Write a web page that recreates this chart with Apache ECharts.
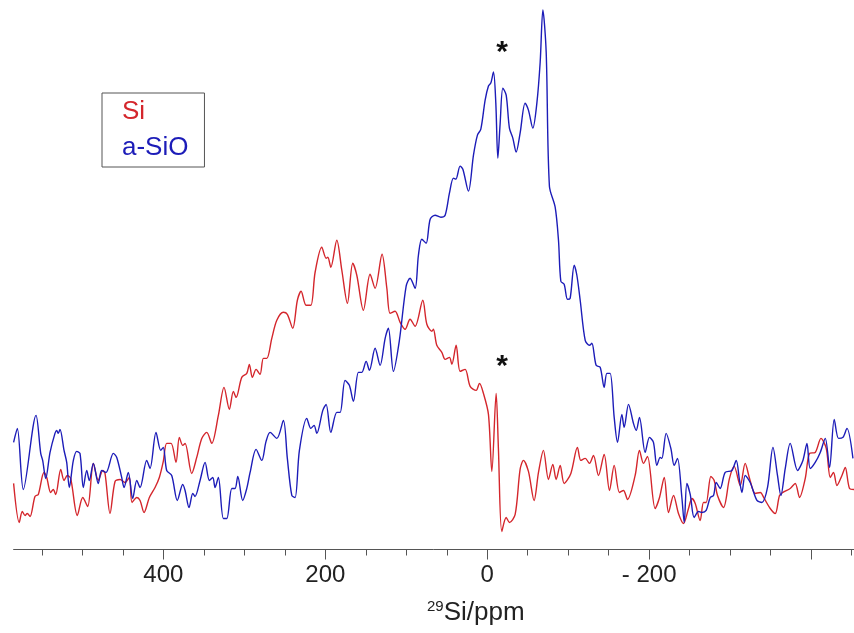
<!DOCTYPE html>
<html>
<head>
<meta charset="utf-8">
<script src="https://cdn.jsdelivr.net/npm/echarts@6/dist/echarts.min.js"></script>
<style>
  html, body { margin: 0; padding: 0; background: #fff; }
  #chart { width: 854px; height: 633px; }
</style>
</head>
<body>
<div id="chart"></div>
<script>
// 29Si NMR spectra: chemical shift (ppm) and relative intensity
const siPpm = [585, 578.0, 574.3, 570.9, 568.1, 564.7, 558.6, 554.5, 547.5, 544.1, 539.2, 536.0, 533.0, 526.8, 522.7, 518.7, 514.5, 506.3, 499.6, 493.5, 486.5, 480.4, 474.9, 472.1, 465.9, 459.7, 453.5, 447.4, 442.1, 438.7, 432.9, 428.8, 423.9, 417.3, 410.3, 405.0, 400.1, 395.9, 390.5, 384.4, 380.3, 376.1, 373.2, 365.0, 358.8, 352.6, 346.4, 340.3, 332.1, 325.1, 318.5, 313.6, 310.2, 303.2, 297.0, 293.8, 290.1, 285.5, 280.6, 276.5, 272.3, 266.1, 259.9, 251.8, 246.9, 240.2, 234.5, 229.9, 223.7, 217.9, 212.6, 204.4, 199.0, 196.9, 193.2, 185.8, 179.6, 172.7, 166.1, 161.1, 153.0, 144.7, 138.5, 129.9, 124.0, 120.0, 113.8, 107.6, 101.4, 95.3, 89.1, 79.6, 74.6, 68.4, 66.5, 62.3, 56.1, 52.0, 46.7, 43.7, 38.4, 33.5, 27.3, 21.1, 13.7, 9.6, 4.7, -1.5, -5.7, -11.0, -13.8, -18.0, -23.4, -27.4, -34.5, -40.6, -44.7, -50.9, -57.9, -63.3, -69.4, -75.6, -81.0, -85.1, -90.1, -95.0, -103.3, -111.4, -115.6, -121.0, -126.3, -131.2, -137.4, -144.4, -151.0, -156.8, -163.3, -168.3, -173.2, -182.7, -188.0, -193.0, -197.9, -207.4, -212.8, -218.6, -223.9, -230.1, -236.2, -242.4, -248.6, -252.8, -256.9, -263.0, -267.1, -270.4, -276.2, -280.3, -284.4, -291.8, -299.2, -305.0, -312.5, -318.6, -324.0, -331.0, -337.2, -342.1, -349.5, -355.7, -361.0, -365.2, -374.2, -380.4, -385.7, -392.8, -398.1, -405.1, -412.2, -418.7, -423.7, -427.7, -431.9, -438.1, -442.2, -447.5, -453.3];
const siInt = [66, 27, 38, 34, 36, 33, 53, 55, 77, 72, 57, 60, 55, 80, 69, 74, 71, 34, 52, 43, 86, 69, 79, 76, 36, 68, 70, 67, 72, 47, 52, 49, 37, 52, 62, 72, 88, 106, 106, 87, 112, 104, 106, 76, 92, 111, 117, 106, 134, 162, 140, 158, 152, 172, 176, 185, 172, 180, 175, 191, 191, 211, 229, 237, 235, 221, 249, 258, 244, 244, 277, 302, 291, 292, 282, 309, 279, 246, 286, 274, 239, 275, 261, 295, 261, 236, 238, 227, 220, 230, 223, 249, 225, 218, 220, 204, 197, 190, 192, 185, 204, 178, 180, 163, 159, 166, 156, 135, 78, 156, 101, 18, 32, 27, 35, 80, 89, 78, 49, 77, 99, 70, 85, 70, 84, 66, 76, 102, 89, 91, 86, 94, 74, 95, 59, 84, 57, 59, 50, 74, 99, 86, 93, 41, 52, 72, 37, 54, 36, 26, 41, 51, 46, 29, 47, 47, 73, 69, 54, 42, 71, 83, 64, 86, 71, 56, 57, 51, 41, 36, 54, 57, 61, 66, 52, 71, 96, 97, 111, 101, 72, 77, 64, 74, 82, 61, 60];

const sioPpm = [585, 580.4, 573.0, 557.3, 551.5, 549.1, 545.3, 540.0, 533.9, 531.8, 529.8, 527.7, 522.7, 519.4, 516.2, 511.2, 507.0, 503.0, 498.9, 494.7, 491.5, 486.5, 480.4, 476.2, 470.9, 461.8, 457.6, 451.5, 448.6, 443.3, 437.9, 432.9, 428.8, 420.6, 416.5, 409.1, 403.3, 400.1, 395.9, 389.7, 382.8, 376.1, 373.2, 368.3, 363.7, 360.9, 354.7, 348.5, 343.2, 339.0, 336.2, 332.1, 325.9, 321.7, 315.5, 311.5, 308.1, 302.0, 297.0, 292.9, 285.5, 278.5, 273.2, 268.2, 259.9, 251.8, 246.9, 241.4, 237.3, 232.0, 222.9, 217.9, 213.9, 210.5, 203.1, 199.0, 193.2, 185.8, 181.7, 175.6, 170.3, 165.3, 159.1, 154.9, 149.6, 145.5, 138.5, 132.3, 126.1, 122.1, 115.9, 108.5, 100.2, 95.3, 89.1, 85.0, 80.8, 75.5, 70.5, 64.4, 57.3, 52.0, 46.7, 41.8, 38.8, 33.5, 30.1, 23.2, 17.0, 12.1, 7.9, 2.6, -1.5, -4.4, -7.7, -10.6, -13.1, -15.9, -19.3, -23.4, -27.4, -31.6, -35.7, -40.6, -46.8, -50.9, -56.3, -61.3, -65.4, -68.7, -72.8, -76.8, -83.9, -88.0, -90.9, -95.0, -99.1, -102.4, -107.4, -110.7, -114.8, -121.0, -126.3, -129.2, -134.5, -139.5, -144.4, -147.8, -151.8, -156.8, -160.9, -166.3, -169.1, -174.5, -180.6, -184.0, -188.0, -195.1, -200.4, -205.3, -209.5, -213.6, -215.7, -221.0, -226.8, -230.9, -235.0, -240.4, -243.3, -246.6, -250.7, -255.6, -260.9, -265.1, -270.4, -275.4, -279.5, -282.8, -287.7, -293.9, -302.2, -307.5, -311.6, -314.6, -318.6, -324.8, -333.1, -339.3, -346.2, -352.9, -358.5, -362.7, -368.1, -374.2, -383.3, -389.9, -394.9, -398.9, -405.1, -411.3, -417.5, -422.8, -428.6, -433.9, -439.3, -444.3, -451.7];
const sioInt = [107, 121, 60, 134, 96, 89, 71, 97, 116, 119, 116, 120, 99, 87, 62, 89, 98, 96, 62, 79, 69, 86, 66, 79, 77, 96, 92, 72, 62, 77, 51, 69, 62, 89, 81, 117, 99, 102, 79, 74, 49, 65, 59, 42, 56, 53, 69, 87, 69, 72, 62, 72, 31, 31, 61, 61, 73, 49, 61, 77, 100, 89, 108, 117, 111, 129, 91, 54, 52, 99, 131, 121, 124, 116, 139, 145, 117, 137, 137, 169, 164, 148, 177, 177, 188, 179, 201, 184, 211, 221, 178, 209, 263, 271, 261, 294, 310, 306, 330, 334, 332, 334, 356, 371, 370, 383, 380, 358, 394, 414, 420, 449, 463, 466, 477, 446, 391, 425, 461, 454, 421, 411, 397, 416, 446, 439, 421, 446, 487, 539, 497, 363, 342, 309, 268, 265, 250, 251, 284, 274, 249, 209, 204, 206, 184, 182, 162, 176, 176, 132, 107, 135, 122, 145, 126, 119, 132, 97, 112, 107, 84, 92, 91, 116, 101, 84, 91, 52, 27, 66, 55, 32, 38, 37, 39, 52, 54, 67, 61, 77, 79, 89, 69, 57, 74, 67, 49, 47, 62, 102, 74, 54, 81, 106, 79, 89, 106, 81, 87, 97, 111, 82, 130, 111, 112, 121, 91];

// spinning sideband / artefact markers
const starPpm = -18.4;
const starSi = 183;
const starSiO = 496;

// axis ticks and labels
const minorTicks = [550, 500, 450, 400, 350, 300, 250, 200, 150, 100, 50, 0, -50, -100, -150, -200, -250, -300, -350, -400, -450];
const majorTicks = [400, 200, 0, -200, -400];
const tickLabels = [400, 200, 0, -200];

const RED = '#d4262c';
const BLUE = '#1c1cb8';
const FONT = '"Liberation Sans", Arial, sans-serif';

function pairs(xs, ys) {
  const n = Math.min(xs.length, ys.length);
  const out = [];
  for (let i = 0; i < n; i++) out.push([xs[i], ys[i]]);
  return out;
}

const chart = echarts.init(document.getElementById('chart'), null, { renderer: 'canvas' });

const xCommon = {
  type: 'value',
  inverse: true,
  min: -453,
  max: 585,
  position: 'bottom',
  splitLine: { show: false },
  gridIndex: 0
};

const starMark = (value) => ({
  symbol: 'circle',
  symbolSize: 0,
  label: { show: true, formatter: '*', fontFamily: FONT, fontSize: 30, fontWeight: 'bold', color: '#111' },
  data: [{ coord: [starPpm, value] }]
});

chart.setOption({
  animation: false,
  backgroundColor: '#fff',
  grid: { left: 13.6, right: 0, top: 0, bottom: 83.5, containLabel: false },
  legend: {
    left: 102,
    top: 93,
    orient: 'vertical',
    icon: 'none',
    itemWidth: 0,
    itemHeight: 0,
    itemGap: 10,
    padding: [6, 16, 6, 15],
    borderColor: '#555',
    borderWidth: 1,
    selectedMode: false,
    textStyle: { fontFamily: FONT, fontSize: 26 },
    data: [
      { name: 'Si', textStyle: { color: RED } },
      { name: 'a-SiO', textStyle: { color: BLUE } }
    ]
  },
  xAxis: [
    Object.assign({}, xCommon, {
      axisLine: { show: true, onZero: false, lineStyle: { color: '#555', width: 1 } },
      axisTick: { show: true, inside: false, length: 6, customValues: minorTicks, lineStyle: { color: '#555', width: 1 } },
      axisLabel: { show: false }
    }),
    Object.assign({}, xCommon, {
      axisLine: { show: false, onZero: false },
      axisTick: { show: true, inside: false, length: 10, customValues: majorTicks, lineStyle: { color: '#555', width: 1 } },
      axisLabel: {
        show: true,
        customValues: tickLabels,
        margin: 14,
        fontFamily: FONT,
        fontSize: 24,
        color: '#222',
        formatter: v => (v < 0 ? '- ' + Math.abs(v) : String(v))
      },
      name: '{sup|29}Si/ppm',
      nameLocation: 'middle',
      nameGap: 50,
      nameTextStyle: {
        fontFamily: FONT,
        fontSize: 26,
        color: '#222',
        padding: [0, 0, 0, 84],
        rich: {
          sup: { fontFamily: FONT, fontSize: 15, color: '#222', verticalAlign: 'top', padding: [0, 0, 11, 0] }
        }
      }
    })
  ],
  yAxis: {
    type: 'value',
    min: 0,
    max: 549,
    show: false,
    splitLine: { show: false }
  },
  series: [
    {
      name: 'Si',
      type: 'line',
      xAxisIndex: 0,
      data: pairs(siPpm, siInt),
      showSymbol: false,
      smooth: 0.3,
      color: RED,
      lineStyle: { color: RED, width: 1.4 },
      markPoint: starMark(starSi)
    },
    {
      name: 'a-SiO',
      type: 'line',
      xAxisIndex: 0,
      data: pairs(sioPpm, sioInt),
      showSymbol: false,
      smooth: 0.3,
      color: BLUE,
      lineStyle: { color: BLUE, width: 1.4 },
      markPoint: starMark(starSiO)
    }
  ]
});
</script>
</body>
</html>
